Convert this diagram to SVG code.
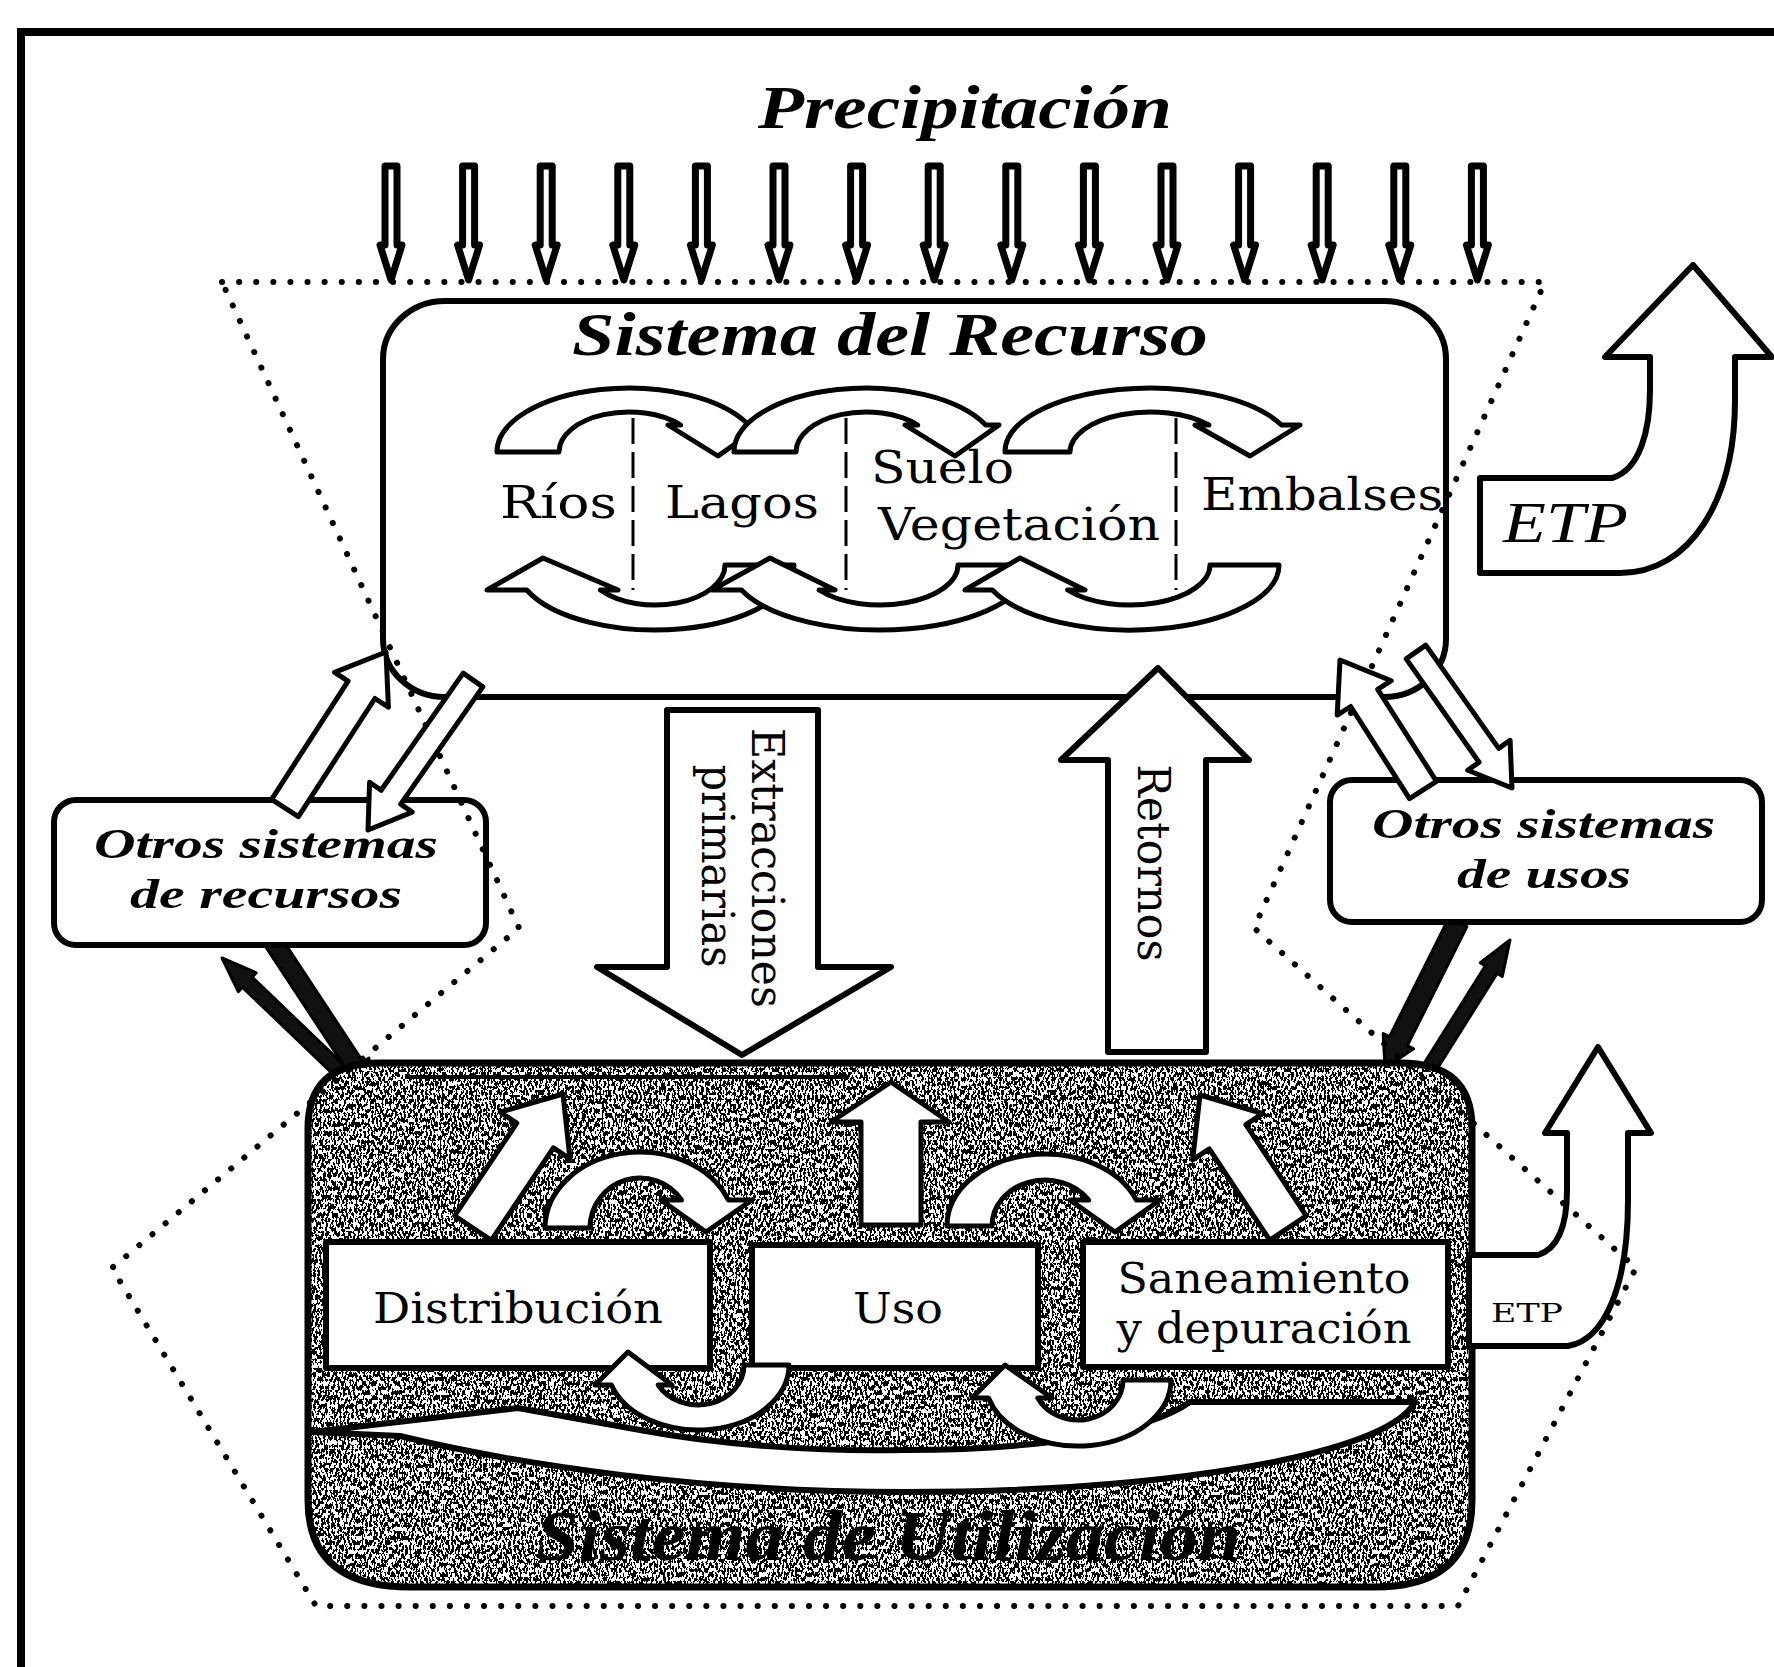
<svg xmlns="http://www.w3.org/2000/svg" width="1774" height="1667" viewBox="0 0 1774 1667">
<defs>
<style>
.wf{fill:#fff;stroke:#000;stroke-width:5;stroke-linejoin:round}
.w6{stroke-width:6}
.rain{fill:#fff;stroke:#000;stroke-width:7;stroke-linejoin:round}
.bf{fill:#111;stroke:#000;stroke-width:3;stroke-linejoin:round}
.dot{fill:none;stroke:#000;stroke-width:6;stroke-linecap:round;stroke-dasharray:0.1 17}
.dash{fill:none;stroke:#000;stroke-width:3;stroke-dasharray:26 8}
.sf{font-family:"DejaVu Serif","Liberation Serif",serif;fill:#000}
.bi{font-family:"Liberation Serif","DejaVu Serif",serif;font-weight:bold;font-style:italic;fill:#000}
.it{font-family:"Liberation Serif","DejaVu Serif",serif;font-style:italic;fill:#000}
</style>
<path id="rain" d="M -6 0 L 6 0 L 6 79 L 11 79 L 0 114 L -11 79 L -6 79 Z"/>
<filter id="grain" x="0" y="0" width="100%" height="100%" color-interpolation-filters="sRGB">
<feTurbulence type="fractalNoise" baseFrequency="0.5 0.22" numOctaves="2" seed="5" result="t"/>
<feColorMatrix in="t" type="matrix" values="0 0 0 0 0 0 0 0 0 0 0 0 0 0 0 1 0 0 0 0" result="a"/>
<feComponentTransfer in="a" result="b"><feFuncA type="discrete" tableValues="0 0 0 0 0 0 0 0 0 0 1 1 1 1 1 1 1 1 1 1"/></feComponentTransfer>
<feComposite in="b" in2="SourceAlpha" operator="in"/>
</filter>
</defs>
<rect width="1774" height="1667" fill="#fff"/>

<g id="frame"><path d="M 21 1667 L 21 32 L 1774 32" fill="none" stroke="#000" stroke-width="8"/></g>

<g id="precipitacion">
<text class="bi" x="758" y="128" font-size="62" textLength="414" lengthAdjust="spacingAndGlyphs">Precipitación</text>
<g class="rain">
<use href="#rain" x="391" y="166"/><use href="#rain" x="468.6" y="166"/><use href="#rain" x="546.2" y="166"/>
<use href="#rain" x="623.8" y="166"/><use href="#rain" x="701.4" y="166"/><use href="#rain" x="779" y="166"/>
<use href="#rain" x="856.6" y="166"/><use href="#rain" x="934.2" y="166"/><use href="#rain" x="1011.8" y="166"/>
<use href="#rain" x="1089.4" y="166"/><use href="#rain" x="1167" y="166"/><use href="#rain" x="1244.6" y="166"/>
<use href="#rain" x="1322.2" y="166"/><use href="#rain" x="1399.8" y="166"/><use href="#rain" x="1477.4" y="166"/>
</g>
</g>

<g id="connectors-back">
<polygon class="bf" points="369.8,1089.9 252.1,977.1 256.3,972.8 222,958 238.3,991.6 242.5,987.3 360.2,1100.1"/>
<polygon class="bf" points="279.5,935.1 363,1061.9 368.9,1058.1 372,1092 342.1,1075.7 348,1071.8 264.5,944.9"/>
<polygon class="bf" points="1466.9,926.5 1407.3,1045.7 1413.6,1048.8 1385,1068 1383.2,1033.6 1389.5,1036.7 1449.1,917.5"/>
<polygon class="bf" points="1430.9,1078.7 1497.2,973.3 1502.3,976.5 1510,940 1480.3,962.7 1485.4,965.9 1419.1,1071.3"/>
</g>

<g id="sistema-recurso">
<rect x="383" y="301" width="1063" height="396" rx="62" ry="58" class="wf w6"/>
<text class="bi" x="572" y="355" font-size="62" textLength="636" lengthAdjust="spacingAndGlyphs">Sistema del Recurso</text>
<g class="dash"><path d="M 633 418 V 590 M 846 418 V 590 M 1176 418 V 590"/></g>
<g class="wf">
<path d="M 497 452 A 132 64 0 0 1 748.7 425 L 762 425 L 718 456 L 668 425 L 680.7 425 A 70 40 0 0 0 559 452 Z"/>
<path d="M 734 452 A 132 64 0 0 1 985.7 425 L 999 425 L 955 456 L 905 425 L 917.7 425 A 70 40 0 0 0 796 452 Z"/>
<path d="M 1005 452 A 145 64 0 0 1 1281.5 425 L 1300 425 L 1250 456 L 1195 425 L 1209 425 A 80 40 0 0 0 1070 452 Z"/>
<path d="M 794 565 A 139 65 0 0 1 526.7 590 L 487 590 L 543 558 L 618 590 L 600.4 590 A 70 40 0 0 0 725 565 Z"/>
<path d="M 1030 565 A 150 65 0 0 1 741.5 590 L 712 590 L 770 558 L 835 590 L 819.1 590 A 78 40 0 0 0 958 565 Z"/>
<path d="M 1279 565 A 149 65 0 0 1 992.4 590 L 965 590 L 1020 558 L 1085 590 L 1067.6 590 A 80 40 0 0 0 1210 565 Z"/>
</g>
<g class="sf" font-size="44">
<text x="500" y="518" textLength="117" lengthAdjust="spacingAndGlyphs">Ríos</text>
<text x="665" y="518" textLength="154" lengthAdjust="spacingAndGlyphs">Lagos</text>
<text x="871" y="483" textLength="143" lengthAdjust="spacingAndGlyphs">Suelo</text>
<text x="878" y="540" textLength="282" lengthAdjust="spacingAndGlyphs">Vegetación</text>
<text x="1201" y="510" textLength="242" lengthAdjust="spacingAndGlyphs">Embalses</text>
</g>
</g>

<g id="etp-recurso">
<path class="wf w6" d="M 1480 478 L 1612 478 C 1640 470 1650 430 1650 390 L 1650 357 L 1605 357 L 1693 265 L 1772 357 L 1735 357 L 1735 400 C 1735 500 1690 573 1620 573 L 1480 573 Z"/>
<text class="it" x="1503" y="542" font-size="58" textLength="125" lengthAdjust="spacingAndGlyphs">ETP</text>
</g>

<g id="otros-recursos">
<rect x="54" y="800" width="432" height="145" rx="22" class="wf w6"/>
<text class="bi" x="94" y="858" font-size="42" textLength="344" lengthAdjust="spacingAndGlyphs">Otros sistemas</text>
<text class="bi" x="130" y="908" font-size="42" textLength="272" lengthAdjust="spacingAndGlyphs">de recursos</text>
</g>

<g id="otros-usos">
<rect x="1330" y="780" width="432" height="142" rx="22" class="wf w6"/>
<text class="bi" x="1372" y="838" font-size="42" textLength="343" lengthAdjust="spacingAndGlyphs">Otros sistemas</text>
<text class="bi" x="1457" y="888" font-size="42" textLength="174" lengthAdjust="spacingAndGlyphs">de usos</text>
</g>

<g id="sistema-utilizacion">
<path d="M 380 1063 L 1400 1063 Q 1472 1063 1472 1128 L 1472 1500 Q 1472 1587 1375 1587 L 410 1587 Q 308 1587 308 1500 L 308 1128 Q 308 1063 380 1063 Z" fill="#fff"/>
<path d="M 380 1063 L 1400 1063 Q 1472 1063 1472 1128 L 1472 1500 Q 1472 1587 1375 1587 L 410 1587 Q 308 1587 308 1500 L 308 1128 Q 308 1063 380 1063 Z" fill="#000" filter="url(#grain)"/>
<path d="M 380 1063 L 1400 1063 Q 1472 1063 1472 1128 L 1472 1500 Q 1472 1587 1375 1587 L 410 1587 Q 308 1587 308 1500 L 308 1128 Q 308 1063 380 1063 Z" fill="none" stroke="#000" stroke-width="7"/>
<path d="M 405 1077 L 849 1077" stroke="#000" stroke-width="4"/>
<path class="wf w6" d="M 1415 1402 C 1385 1458 1150 1492 905 1492 C 700 1492 520 1465 400 1436 L 312 1432 L 518 1408 L 640 1430 C 720 1445 820 1452 905 1450 C 1050 1450 1150 1430 1190 1402 Z"/>
<g class="wf">
<polygon points="491.3,1240.3 553.4,1147.8 570,1158.9 563,1094 500.2,1112.1 516.8,1123.2 454.7,1215.7"/>
<polygon points="1306.3,1215.9 1245.9,1124.6 1262.6,1113.5 1200,1095 1192.6,1159.9 1209.3,1148.8 1269.7,1240.1"/>
<path d="M 861 1225 L 861 1122 L 831 1122 L 891 1082 L 949 1122 L 921 1122 L 921 1225 Z"/>
<path d="M 545 1228 A 95 76 0 0 1 728.3 1200 L 752 1200 L 706 1232 L 661 1200 L 681.4 1200 A 50 50 0 0 0 590 1228 Z"/>
<path d="M 947 1226 A 98 72 0 0 1 1136.4 1200 L 1160 1200 L 1115 1232 L 1070 1200 L 1088.7 1200 A 53 46 0 0 0 992 1226 Z"/>
</g>
<g id="distribucion">
<rect x="326" y="1242" width="384" height="126" class="wf w6"/>
<text class="sf" x="518" y="1323" font-size="42" text-anchor="middle" textLength="290" lengthAdjust="spacingAndGlyphs">Distribución</text>
</g>
<g id="uso">
<rect x="752" y="1245" width="286" height="123" class="wf w6"/>
<text class="sf" x="898" y="1323" font-size="42" text-anchor="middle" textLength="90" lengthAdjust="spacingAndGlyphs">Uso</text>
</g>
<g id="saneamiento">
<rect x="1083" y="1242" width="365" height="125" class="wf w6"/>
<text class="sf" x="1264" y="1293" font-size="42" text-anchor="middle" textLength="293" lengthAdjust="spacingAndGlyphs">Saneamiento</text>
<text class="sf" x="1264" y="1343" font-size="42" text-anchor="middle" textLength="295" lengthAdjust="spacingAndGlyphs">y depuración</text>
</g>
<g class="wf">
<path d="M 789 1365 A 91 65 0 0 1 611.4 1385 L 595 1385 L 628 1352 L 672 1385 L 658.2 1385 A 46 40 0 0 0 744 1365 Z"/>
<path d="M 1171 1380 A 93 66 0 0 1 988.5 1398 L 972 1398 L 1005 1365 L 1052 1398 L 1037.8 1398 A 45 40 0 0 0 1123 1380 Z"/>
</g>
<text class="bi" x="536" y="1560" font-size="72" textLength="705" lengthAdjust="spacingAndGlyphs">Sistema de Utilización</text>
</g>

<g id="etp-utilizacion">
<path class="wf w6" d="M 1469 1255 L 1538 1255 C 1560 1248 1567 1222 1567 1190 L 1567 1133 L 1545 1133 L 1598 1047 L 1651 1133 L 1628 1133 L 1628 1200 C 1628 1285 1605 1340 1568 1346 L 1469 1346 Z"/>
<text class="sf" x="1491" y="1322" font-size="26" textLength="72" lengthAdjust="spacingAndGlyphs">ETP</text>
</g>

<g id="boundary">
<polygon class="dot" points="222,282 1545,282 1254,928 1636,1268 1458,1606 316,1606 112,1268 519,928"/>
</g>

<g id="connectors">
<path class="wf w6" d="M 667 710 L 818 710 L 818 967 L 891 967 L 742 1055 L 597 967 L 667 967 Z"/>
<text class="sf" font-size="44" text-anchor="middle" transform="translate(752,868) rotate(90)" textLength="280" lengthAdjust="spacingAndGlyphs">Extracciones</text>
<text class="sf" font-size="44" text-anchor="middle" transform="translate(702,866) rotate(90)" textLength="203" lengthAdjust="spacingAndGlyphs">primarias</text>
<path class="wf w6" d="M 1108 1052 L 1108 760 L 1061 760 L 1158 668 L 1249 760 L 1206 760 L 1206 1052 Z"/>
<text class="sf" font-size="44" text-anchor="middle" transform="translate(1138,863) rotate(90)" textLength="197" lengthAdjust="spacingAndGlyphs">Retornos</text>
<g class="wf">
<polygon points="298.4,816.7 374.9,698.5 388.4,707.2 386,652 334.6,672.4 348.1,681.1 271.6,799.3"/>
<polygon points="482.8,686.9 400.7,804.1 412.2,812.1 368,830 369.6,782.3 381.1,790.3 463.2,673.1"/>
<polygon points="1436.5,781.4 1377.7,689.3 1391.2,680.7 1340,660 1337.2,715.1 1350.7,706.5 1409.5,798.6"/>
<polygon points="1425.8,645.1 1498.7,748.4 1510.1,740.3 1512,788 1467.7,770.3 1479.1,762.2 1406.2,658.9"/>
</g>
</g>
</svg>
